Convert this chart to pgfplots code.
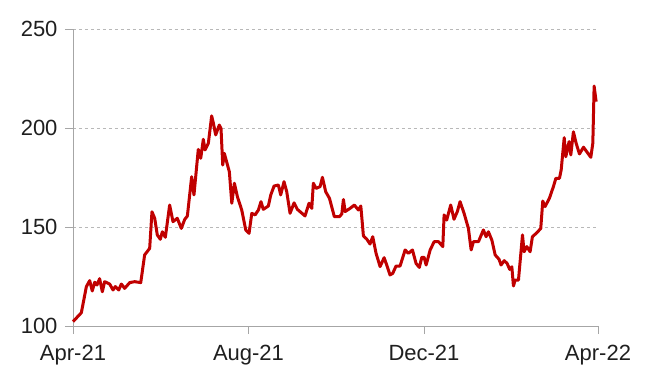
\documentclass[border=0pt]{standalone}
\usepackage{pgfplots}
\pgfplotsset{compat=1.18}
\usepackage{fontspec}
\setmainfont{Liberation Sans}
\definecolor{linered}{HTML}{C00000}
\definecolor{axgray}{HTML}{A6A6A6}
\definecolor{txt}{HTML}{1F1F1F}
\begin{document}
\begin{tikzpicture}
\begin{axis}[
  scale only axis, width=525bp, height=297bp,
  xmin=0, xmax=365, ymin=100, ymax=250,
  xtick={0,122,244,365}, xticklabels={Apr-21,Aug-21,Dec-21,Apr-22},
  ytick={100,150,200,250},
  axis lines*=left,
  axis line style={axgray, line width=0.9bp},
  ymajorgrids, grid style={dashed, axgray!80, line width=0.6bp},
  tick align=outside, major tick length=8bp,
  tick style={axgray, line width=0.9bp},
  tick label style={font=\fontsize{22bp}{26bp}\selectfont, text=txt},
  xticklabel style={yshift=-8bp},
  yticklabel style={xshift=-4bp},
  /pgf/number format/assume math mode=true,
  /pgf/number format/1000 sep={},
  clip=false,
]
\addplot[linered, line width=3bp, line join=round] coordinates {
(0,102.2) (5.8,106.7) (9.3,119.9) (11.6,122.9) (13.4,117.7) (15.1,122.1) (16.7,120.7) (18.5,123.9) (20.4,117.3) (22,122.4)
(25.5,121.2) (27.8,118.2) (29.4,119.9) (31.8,118.2) (33.6,121.2) (35.9,119.0) (39.4,121.9) (42.9,122.4) (47.1,121.9) (49.8,135.9)
(53.3,139.2) (54.9,157.7) (56.8,154.4) (58.6,146.0) (60.7,143.8) (62.1,147.6) (64.2,144.8) (67.2,161.1) (69.5,152.7) (72.5,154.4)
(75.3,149.3) (77.7,153.9) (79.5,155.5) (82.5,175.4) (84.1,166.2) (87.1,189.2) (88.8,184.7) (90.6,194.3) (91.8,188.9) (94.1,192.3)
(96.4,206.1) (97.6,202.4) (99.2,196.5) (101.7,201.5) (102.9,199.8) (104.1,181.3) (105.2,187.2) (108.7,177.9) (110.4,162.0) (112.2,172.1)
(114.3,165.3) (117.3,158.6) (120.1,148.5) (122.4,146.8) (124.3,156.9) (126.6,156.1) (128.9,158.6) (130.7,162.8) (132.3,158.9) (135.8,160.6)
(137.5,166.2) (139.8,170.7) (142.8,171.2) (144.4,166.2) (146.7,172.9) (148.6,167.8) (150.9,156.9) (153.7,162.2) (156.0,158.9) (161.3,155.6)
(164.1,162.0) (166.0,159.4) (167.1,172.1) (169.0,169.5) (171.8,170.4) (173.4,175.1) (175.7,167.8) (178.3,164.5) (181.7,155.2) (185.2,155.2)
(186.9,156.6) (188.0,163.9) (189.2,157.8) (192.6,159.4) (195.6,161.1) (198.4,158.6) (200.1,160.6) (201.9,145.5) (204.2,143.9) (206.5,141.4)
(208.4,145.1) (210.7,136.7) (213.5,130.0) (216.3,134.5) (218.1,130.8) (220.4,125.8) (222.3,126.6) (224.6,130.3) (227.4,130.3) (230.9,138.4)
(233.2,136.7) (236.0,138.4) (238.5,131.6) (240.8,129.6) (242.5,134.7) (244.1,134.7) (245.5,130.8) (248.3,138.4) (251.1,142.6) (254.1,142.6)
(257.1,140.1) (258.0,156.1) (259.8,153.5) (262.6,161.1) (264.9,153.9) (267.2,157.8) (269.1,162.8) (271.9,156.9) (274.9,149.3) (276.8,138.4)
(278.4,142.6) (281.9,142.6) (285.3,148.5) (287.2,145.1) (288.8,147.6) (291.2,143.4) (293.5,135.9) (296.2,133.7) (297.6,130.8) (299.8,133.0)
(301.8,131.6) (303.6,128.6) (305.1,129.9) (306.2,120.2) (307.4,123.2) (309.7,123.2) (312.5,146.0) (313.6,137.5) (315.5,140.1) (317.8,137.5)
(319.4,145.1) (322.5,147.1) (325.2,149.3) (326.6,163.1) (328.2,160.3) (331.2,164.5) (334.0,170.4) (335.7,174.6) (338.2,174.6) (339.4,178.8)
(341.5,195.1) (342.6,185.5) (344.9,193.1) (346.1,186.4) (347.9,198.1) (349.8,192.3) (352.1,186.9) (354.9,190.3) (357.6,187.6) (360.0,185.2)
(361.4,192.3) (362.3,221.2) (363.7,213.3)
};
\end{axis}
\pgfresetboundingbox
\path[use as bounding box] ([shift={(-73bp,-53bp)}]current axis.south west) rectangle ([shift={(577bp,326bp)}]current axis.south west);
\end{tikzpicture}
\end{document}
